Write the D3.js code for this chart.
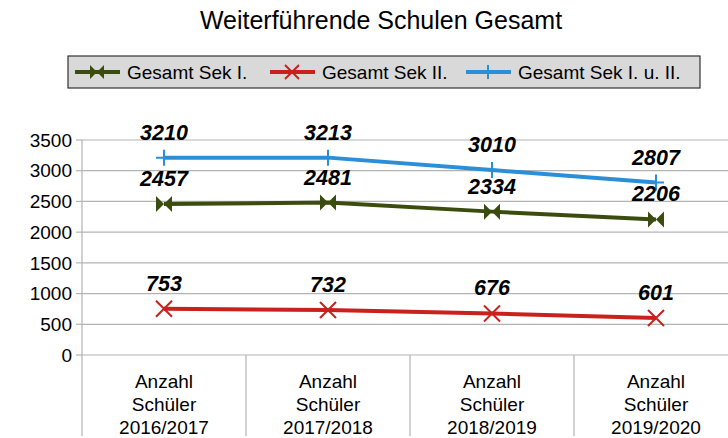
<!DOCTYPE html>
<html>
<head>
<meta charset="utf-8">
<script src="https://cdn.jsdelivr.net/npm/d3@7"></script>
<style>
  body { margin: 0; background: #fff; }
  text { font-family: "Liberation Sans", Arial, sans-serif; }
</style>
</head>
<body>
<svg width="728" height="438"></svg>
<script>
var categories = ["Anzahl\nSchüler\n2016/2017", "Anzahl\nSchüler\n2017/2018", "Anzahl\nSchüler\n2018/2019", "Anzahl\nSchüler\n2019/2020"];
var sekI = [2457, 2481, 2334, 2206];
var sekII = [753, 732, 676, 601];
var sekGes = [3210, 3213, 3010, 2807];
var seriesNames = ["Gesamt Sek I.", "Gesamt Sek II.", "Gesamt Sek I. u. II."];
var yTicks = [0, 500, 1000, 1500, 2000, 2500, 3000, 3500];

var series = [
  { name: seriesNames[0], values: sekI, color: "#3b4d0e", marker: "bowtie" },
  { name: seriesNames[1], values: sekII, color: "#c9211e", marker: "cross" },
  { name: seriesNames[2], values: sekGes, color: "#2a8ed8", marker: "plus" }
];

var svg = d3.select("svg");
var plotLeft = 82, plotTop = 140, plotBottom = 355, bandW = 164;

var x = d3.scaleBand()
    .domain(categories)
    .range([plotLeft, plotLeft + bandW * categories.length])
    .padding(0);

var y = d3.scaleLinear()
    .domain([0, 3500])
    .range([plotBottom, plotTop]);

function cx(i) { return x(categories[i]) + x.bandwidth() / 2; }

// title
svg.append("text")
    .attr("x", 381)
    .attr("y", 29)
    .attr("text-anchor", "middle")
    .style("font-size", "25px")
    .text("Weiterführende Schulen Gesamt");

// gridlines
svg.append("g").selectAll("line")
  .data(yTicks)
  .enter().append("line")
    .attr("x1", plotLeft).attr("x2", 728)
    .attr("y1", function(d) { return y(d); })
    .attr("y2", function(d) { return y(d); })
    .attr("stroke", "#b3b3b3")
    .attr("stroke-width", 1.2);

// axis left and tick marks
svg.append("line")
    .attr("x1", plotLeft).attr("x2", plotLeft)
    .attr("y1", plotTop).attr("y2", 436)
    .attr("stroke", "#b3b3b3").attr("stroke-width", 1.2);

svg.append("g").selectAll("line")
  .data(yTicks)
  .enter().append("line")
    .attr("x1", plotLeft - 6).attr("x2", plotLeft)
    .attr("y1", function(d) { return y(d); })
    .attr("y2", function(d) { return y(d); })
    .attr("stroke", "#b3b3b3").attr("stroke-width", 1.2);

svg.append("g").selectAll("text")
  .data(yTicks)
  .enter().append("text")
    .attr("x", plotLeft - 10)
    .attr("y", function(d) { return y(d); })
    .attr("dy", "0.35em")
    .attr("text-anchor", "end")
    .style("font-size", "19px")
    .text(function(d) { return d; });

// category separators below axis
svg.append("g").selectAll("line")
  .data(categories.slice(1))
  .enter().append("line")
    .attr("x1", function(d) { return x(d); })
    .attr("x2", function(d) { return x(d); })
    .attr("y1", plotBottom).attr("y2", 436)
    .attr("stroke", "#b3b3b3").attr("stroke-width", 1.2);

// category labels
var cat = svg.append("g").selectAll("text")
  .data(categories)
  .enter().append("text")
    .attr("text-anchor", "middle")
    .style("font-size", "19px");
cat.each(function(d, i) {
  var t = d3.select(this);
  d.split("\n").forEach(function(line, k) {
    t.append("tspan")
      .attr("x", cx(i))
      .attr("y", 388 + k * 23)
      .text(line);
  });
});

function drawMarker(g, type, color, px, py, s) {
  if (type === "bowtie") {
    g.append("path")
      .attr("d", "M" + (px - s) + "," + (py - s) + "L" + (px + s) + "," + (py + s) +
                 "L" + (px + s) + "," + (py - s) + "L" + (px - s) + "," + (py + s) + "Z")
      .attr("fill", color);
  } else if (type === "cross") {
    g.append("path")
      .attr("d", "M" + (px - s) + "," + (py - s) + "L" + (px + s) + "," + (py + s) +
                 "M" + (px + s) + "," + (py - s) + "L" + (px - s) + "," + (py + s))
      .attr("stroke", color).attr("stroke-width", 2).attr("fill", "none");
  } else {
    g.append("path")
      .attr("d", "M" + px + "," + (py - s) + "L" + px + "," + (py + s) +
                 "M" + (px - s) + "," + py + "L" + (px + s) + "," + py)
      .attr("stroke", color).attr("stroke-width", 2).attr("fill", "none");
  }
}

var line = d3.line()
    .x(function(d, i) { return cx(i); })
    .y(function(d) { return y(d); });

series.forEach(function(s) {
  var g = svg.append("g");
  g.append("path")
      .datum(s.values)
      .attr("d", line)
      .attr("fill", "none")
      .attr("stroke", s.color)
      .attr("stroke-width", 4);
  s.values.forEach(function(v, i) {
    drawMarker(g, s.marker, s.color, cx(i), y(v), 8);
  });
});

// data labels
series.forEach(function(s) {
  svg.append("g").selectAll("text")
    .data(s.values)
    .enter().append("text")
      .attr("x", function(d, i) { return cx(i); })
      .attr("y", function(d) { return y(d) - 18; })
      .attr("text-anchor", "middle")
      .style("font-size", "21.5px")
      .style("font-weight", "bold")
      .style("font-style", "italic")
      .text(function(d) { return d; });
});

// legend
var lg = svg.append("g");
lg.append("rect")
    .attr("x", 68).attr("y", 56)
    .attr("width", 632).attr("height", 32)
    .attr("fill", "#d9d9d9")
    .attr("stroke", "#333").attr("stroke-width", 1.2);
var lx = [75, 270, 466];
series.forEach(function(s, i) {
  lg.append("line")
      .attr("x1", lx[i]).attr("x2", lx[i] + 45)
      .attr("y1", 72).attr("y2", 72)
      .attr("stroke", s.color).attr("stroke-width", 4);
  drawMarker(lg, s.marker, s.color, lx[i] + 22, 72, 7);
  lg.append("text")
      .attr("x", lx[i] + 52)
      .attr("y", 72)
      .attr("dy", "0.35em")
      .style("font-size", "19px")
      .text(s.name);
});
</script>
</body>
</html>
